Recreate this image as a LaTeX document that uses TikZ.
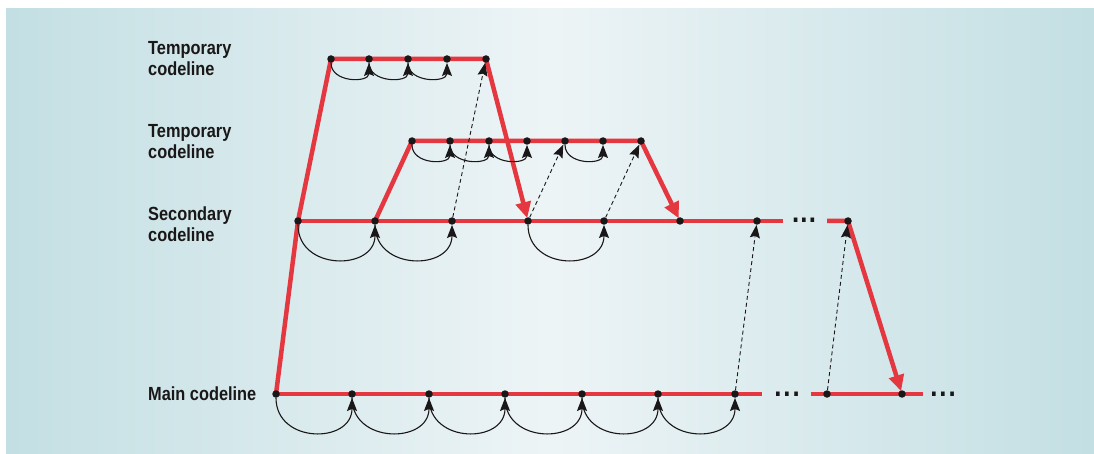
\documentclass[tikz,border=0pt]{standalone}
\usepackage{fontspec}
\setmainfont{Liberation Sans}[FakeStretch=0.86]
\usetikzlibrary{arrows.meta}
\definecolor{codered}{HTML}{E5373F}
\definecolor{bgside}{HTML}{C3DFE3}
\definecolor{bgmid}{HTML}{EDF4F6}
\definecolor{inkc}{HTML}{1A1718}
\begin{document}
\begin{tikzpicture}[x=1pt,y=-1pt,
  redpath/.style={draw=codered,line width=4.5pt,line join=miter},
  redarrow/.style={redpath,-{Triangle[length=16pt,width=15pt]},shorten >=3pt},
  dotpt/.style={circle,fill=inkc,inner sep=0pt,minimum size=7.5pt},
  hop/.style={draw=inkc,line width=1.1pt,-{Stealth[length=13pt,width=10pt,inset=2pt]}},
  merge/.style={draw=inkc,line width=0.9pt,dash pattern=on 4pt off 3pt,-{Stealth[length=13pt,width=10pt,inset=2pt]}},
  lbl/.style={anchor=north west,inner sep=0pt,align=left,text=inkc,font=\bfseries\fontsize{19}{21}\selectfont},
  ell/.style={anchor=base,inner sep=0pt,text=inkc,font=\bfseries\fontsize{30}{30}\selectfont}
]
\useasboundingbox (0,0) rectangle (1094,454);
\fill[white] (0,0) rectangle (1094,454);
\shade[left color=bgside,right color=bgside,middle color=bgmid] (6,9) rectangle (1094,454);

% coordinates
\foreach \n/\x in {a/331,b/369,c/408,d/447,e/486}{\coordinate (t1\n) at (\x,59);}
\foreach \n/\x in {a/412,b/450,c/489,d/527,e/565,f/603,g/641}{\coordinate (t2\n) at (\x,141);}
\foreach \n/\x in {1/298,2/375,3/452,4/528,5/604,6/680,7/757,8/848}{\coordinate (s\n) at (\x,221);}
\foreach \n/\x in {1/276,2/352,3/429,4/505,5/582,6/658,7/735,8/827,9/902}{\coordinate (m\n) at (\x,394);}
\coordinate (sEnd) at (783,221);
\coordinate (sRes) at (827,221);
\coordinate (mEnd) at (762,394);
\coordinate (mRes) at (811,394);
\coordinate (mTail) at (923,394);

% red codelines
\draw[redpath] (m1) -- (mEnd);
\draw[redpath] (mRes) -- (mTail);
\draw[redpath] (s1) -- (sEnd);
\draw[redarrow] (m1) -- (s1) -- (t1a) -- (t1e) -- (s4);
\draw[redarrow] (s2) -- (t2a) -- (t2g) -- (s6);
\draw[redarrow] (sRes) -- (s8) -- (m9);

% dots
\foreach \n in {a,b,c,d,e}{\node[dotpt] (T1\n) at (t1\n) {};}
\foreach \n in {a,b,c,d,e,f,g}{\node[dotpt] (T2\n) at (t2\n) {};}
\foreach \n in {1,...,8}{\node[dotpt] (S\n) at (s\n) {};}
\foreach \n in {1,...,9}{\node[dotpt] (M\n) at (m\n) {};}

% ellipses
\node[ell] (e1) at (804,223) {.\hspace{1.2pt}.\hspace{1.2pt}.};
\node[ell] (e2) at (787,396) {.\hspace{2pt}.\hspace{2pt}.};
\node[ell] (e3) at (943,396) {.\hspace{2pt}.\hspace{2pt}.};

% hops on temporary codelines
\foreach \a/\b in {T1a/T1b,T1b/T1c,T1c/T1d,T2a/T2b,T2b/T2c,T2c/T2d,T2e/T2f}{
  \draw[hop] (\a) .. controls +(0,24) and +(0,24) .. (\b);}
% hops on secondary and main
\foreach \a/\b in {S1/S2,S2/S3,S4/S5,M1/M2,M2/M3,M3/M4,M4/M5,M5/M6,M6/M7}{
  \draw[hop] (\a) .. controls +(0,50) and +(0,50) .. (\b);}

% merges
\draw[merge] (S3) -- (T1e);
\draw[merge] (S4) -- (T2e);
\draw[merge] (S5) -- (T2g);
\draw[merge] (M7) -- (S7);
\draw[merge] (M8) -- (S8);

% labels
\node[lbl] (l1) at (148,41.5) {Temporary\\codeline};
\node[lbl] (l2) at (148,124.5) {Temporary\\codeline};
\node[lbl] (l3) at (148,206.5) {Secondary\\codeline};
\node[lbl] (l4) at (148,386.5) {Main codeline};
\end{tikzpicture}
\end{document}
